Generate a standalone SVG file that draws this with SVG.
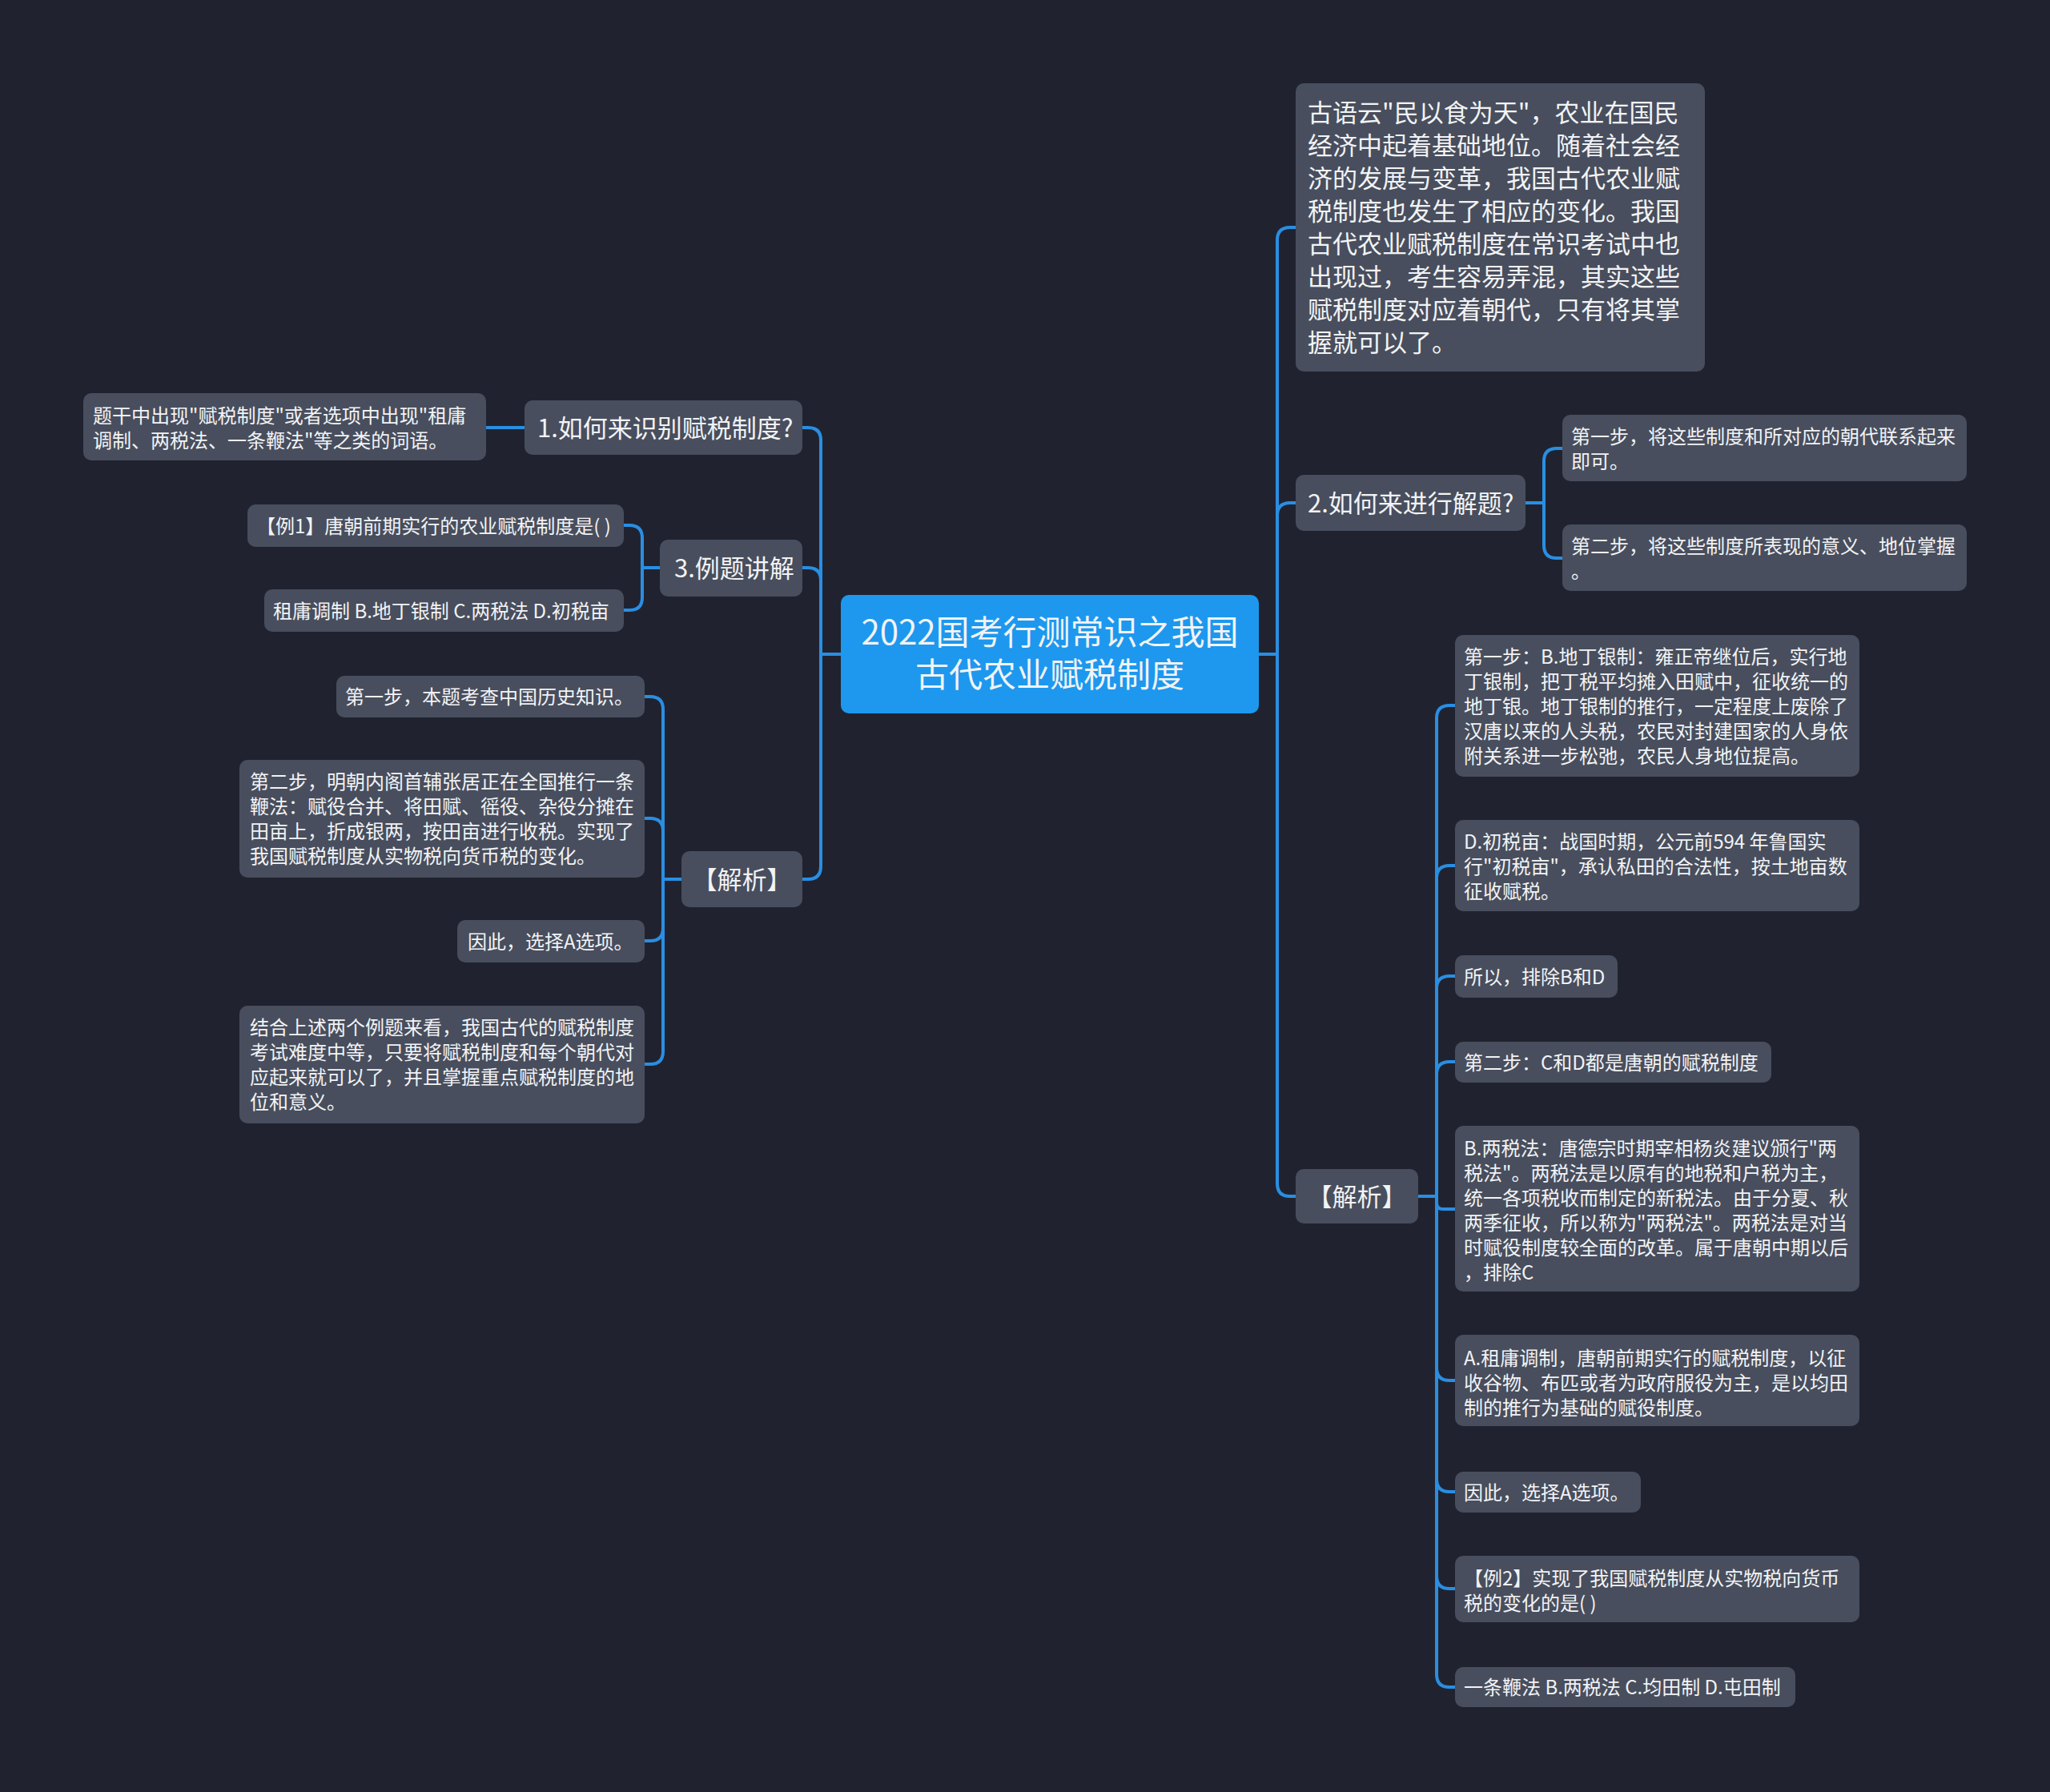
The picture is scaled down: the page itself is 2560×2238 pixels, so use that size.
<svg xmlns="http://www.w3.org/2000/svg" width="2560" height="2238" viewBox="0 0 2560 2238">
<style>
.bg{fill:#20232f}
.n{fill:#484e5d}
.root{fill:#1d98ee}
.t{font-family:"Noto Sans CJK SC","Liberation Sans",sans-serif;fill:#f2f3f5}
.f42{font-size:42px}
.f31{font-size:31px}
.f24{font-size:24px}
.c{fill:none;stroke:#2a8ee2;stroke-width:4;stroke-linecap:round;stroke-linejoin:round}
</style>
<rect class="bg" x="0" y="0" width="2560" height="2238"/>
<g id="connectors">
<path class="c" d="M1572,817 H1595"/>
<path class="c" d="M1595,817 V300 Q1595,284 1611,284 H1618"/>
<path class="c" d="M1595,817 V644 Q1595,628 1611,628 H1618"/>
<path class="c" d="M1595,817 V1478 Q1595,1494 1611,1494 H1618"/>
<path class="c" d="M1905,628 H1928"/>
<path class="c" d="M1928,628 V576 Q1928,560 1944,560 H1951"/>
<path class="c" d="M1928,628 V681 Q1928,697 1944,697 H1951"/>
<path class="c" d="M1771,1494 H1794"/>
<path class="c" d="M1794,1494 V897 Q1794,881 1810,881 H1817"/>
<path class="c" d="M1794,1494 V1097 Q1794,1081 1810,1081 H1817"/>
<path class="c" d="M1794,1494 V1235 Q1794,1219 1810,1219 H1817"/>
<path class="c" d="M1794,1494 V1342 Q1794,1326 1810,1326 H1817"/>
<path class="c" d="M1794,1494 V1502 Q1794,1510 1802,1510 H1817"/>
<path class="c" d="M1794,1494 V1708 Q1794,1724 1810,1724 H1817"/>
<path class="c" d="M1794,1494 V1847 Q1794,1863 1810,1863 H1817"/>
<path class="c" d="M1794,1494 V1968 Q1794,1984 1810,1984 H1817"/>
<path class="c" d="M1794,1494 V2091 Q1794,2107 1810,2107 H1817"/>
<path class="c" d="M1050,817 H1025"/>
<path class="c" d="M1025,817 V550 Q1025,534 1009,534 H1002"/>
<path class="c" d="M1025,817 V725 Q1025,709 1009,709 H1002"/>
<path class="c" d="M1025,817 V1082 Q1025,1098 1009,1098 H1002"/>
<path class="c" d="M655,534 H607"/>
<path class="c" d="M824,709 H802"/>
<path class="c" d="M802,709 V672 Q802,656 786,656 H779"/>
<path class="c" d="M802,709 V746 Q802,762 786,762 H779"/>
<path class="c" d="M851,1098 H828"/>
<path class="c" d="M828,1098 V886 Q828,870 812,870 H805"/>
<path class="c" d="M828,1098 V1038 Q828,1022 812,1022 H805"/>
<path class="c" d="M828,1098 V1159 Q828,1175 812,1175 H805"/>
<path class="c" d="M828,1098 V1313 Q828,1329 812,1329 H805"/>
</g>
<g id="root">
<rect class="root" x="1050" y="743" width="522" height="148" rx="10"/>
<text class="t f42" x="1311" text-anchor="middle"><tspan x="1311" y="805">2022国考行测常识之我国</tspan><tspan x="1311" y="858">古代农业赋税制度</tspan></text>
</g>
<g id="intro">
<rect class="n" x="1618" y="104" width="511" height="360" rx="10"/>
<text class="t f31"><tspan x="1633" y="152">古语云"民以食为天"，农业在国民</tspan><tspan x="1633" y="193">经济中起着基础地位。随着社会经</tspan><tspan x="1633" y="234">济的发展与变革，我国古代农业赋</tspan><tspan x="1633" y="275">税制度也发生了相应的变化。我国</tspan><tspan x="1633" y="316">古代农业赋税制度在常识考试中也</tspan><tspan x="1633" y="357">出现过，考生容易弄混，其实这些</tspan><tspan x="1633" y="398">赋税制度对应着朝代，只有将其掌</tspan><tspan x="1633" y="439">握就可以了。</tspan></text>
</g>
<g id="r2">
<rect class="n" x="1618" y="593" width="287" height="70" rx="10"/>
<text class="t f31" x="1633" y="640">2.如何来进行解题?</text>
</g>
<g id="r2a">
<rect class="n" x="1951" y="518" width="505" height="83" rx="10"/>
<text class="t f24"><tspan x="1962" y="554">第一步，将这些制度和所对应的朝代联系起来</tspan><tspan x="1962" y="585">即可。</tspan></text>
</g>
<g id="r2b">
<rect class="n" x="1951" y="655" width="505" height="83" rx="10"/>
<text class="t f24"><tspan x="1962" y="691">第二步，将这些制度所表现的意义、地位掌握</tspan><tspan x="1962" y="722">。</tspan></text>
</g>
<g id="r3">
<rect class="n" x="1618" y="1460" width="153" height="68" rx="10"/>
<text class="t f31" x="1694.5" y="1506" text-anchor="middle">【解析】</text>
</g>
<g id="r3a">
<rect class="n" x="1817" y="793" width="505" height="177" rx="10"/>
<text class="t f24"><tspan x="1828" y="829">第一步：B.地丁银制：雍正帝继位后，实行地</tspan><tspan x="1828" y="860">丁银制，把丁税平均摊入田赋中，征收统一的</tspan><tspan x="1828" y="891">地丁银。地丁银制的推行，一定程度上废除了</tspan><tspan x="1828" y="922">汉唐以来的人头税，农民对封建国家的人身依</tspan><tspan x="1828" y="953">附关系进一步松弛，农民人身地位提高。</tspan></text>
</g>
<g id="r3b">
<rect class="n" x="1817" y="1024" width="505" height="114" rx="10"/>
<text class="t f24"><tspan x="1828" y="1060">D.初税亩：战国时期，公元前594 年鲁国实</tspan><tspan x="1828" y="1091">行"初税亩"，承认私田的合法性，按土地亩数</tspan><tspan x="1828" y="1122">征收赋税。</tspan></text>
</g>
<g id="r3c">
<rect class="n" x="1817" y="1193" width="203" height="53" rx="10"/>
<text class="t f24" x="1828" y="1229">所以，排除B和D</text>
</g>
<g id="r3d">
<rect class="n" x="1817" y="1301" width="395" height="51" rx="10"/>
<text class="t f24" x="1828" y="1336">第二步：C和D都是唐朝的赋税制度</text>
</g>
<g id="r3e">
<rect class="n" x="1817" y="1406" width="505" height="207" rx="10"/>
<text class="t f24"><tspan x="1828" y="1443">B.两税法：唐德宗时期宰相杨炎建议颁行"两</tspan><tspan x="1828" y="1474">税法"。两税法是以原有的地税和户税为主，</tspan><tspan x="1828" y="1505">统一各项税收而制定的新税法。由于分夏、秋</tspan><tspan x="1828" y="1536">两季征收，所以称为"两税法"。两税法是对当</tspan><tspan x="1828" y="1567">时赋役制度较全面的改革。属于唐朝中期以后</tspan><tspan x="1828" y="1598">，排除C</tspan></text>
</g>
<g id="r3f">
<rect class="n" x="1817" y="1667" width="505" height="114" rx="10"/>
<text class="t f24"><tspan x="1828" y="1705">A.租庸调制，唐朝前期实行的赋税制度，以征</tspan><tspan x="1828" y="1736">收谷物、布匹或者为政府服役为主，是以均田</tspan><tspan x="1828" y="1767">制的推行为基础的赋役制度。</tspan></text>
</g>
<g id="r3g">
<rect class="n" x="1817" y="1838" width="232" height="51" rx="10"/>
<text class="t f24" x="1828" y="1873">因此，选择A选项。</text>
</g>
<g id="r3h">
<rect class="n" x="1817" y="1943" width="505" height="83" rx="10"/>
<text class="t f24"><tspan x="1828" y="1980">【例2】实现了我国赋税制度从实物税向货币</tspan><tspan x="1828" y="2011">税的变化的是( )</tspan></text>
</g>
<g id="r3i">
<rect class="n" x="1817" y="2082" width="425" height="50" rx="10"/>
<text class="t f24" x="1828" y="2116">一条鞭法 B.两税法 C.均田制 D.屯田制</text>
</g>
<g id="l1">
<rect class="n" x="655" y="500" width="347" height="68" rx="10"/>
<text class="t f31" x="671" y="546">1.如何来识别赋税制度?</text>
</g>
<g id="l1a">
<rect class="n" x="104" y="491" width="503" height="84" rx="10"/>
<text class="t f24"><tspan x="116" y="528">题干中出现"赋税制度"或者选项中出现"租庸</tspan><tspan x="116" y="559">调制、两税法、一条鞭法"等之类的词语。</tspan></text>
</g>
<g id="l2">
<rect class="n" x="824" y="674" width="178" height="71" rx="10"/>
<text class="t f31" x="842" y="721">3.例题讲解</text>
</g>
<g id="l2a">
<rect class="n" x="309" y="630" width="470" height="53" rx="10"/>
<text class="t f24" x="320" y="666">【例1】唐朝前期实行的农业赋税制度是( )</text>
</g>
<g id="l2b">
<rect class="n" x="330" y="736" width="449" height="53" rx="10"/>
<text class="t f24" x="341" y="772">租庸调制 B.地丁银制 C.两税法 D.初税亩</text>
</g>
<g id="l3">
<rect class="n" x="851" y="1063" width="151" height="70" rx="10"/>
<text class="t f31" x="926.5" y="1110" text-anchor="middle">【解析】</text>
</g>
<g id="l3a">
<rect class="n" x="420" y="844" width="385" height="52" rx="10"/>
<text class="t f24" x="431" y="879">第一步，本题考查中国历史知识。</text>
</g>
<g id="l3b">
<rect class="n" x="299" y="949" width="506" height="147" rx="10"/>
<text class="t f24"><tspan x="312" y="985">第二步，明朝内阁首辅张居正在全国推行一条</tspan><tspan x="312" y="1016">鞭法：赋役合并、将田赋、徭役、杂役分摊在</tspan><tspan x="312" y="1047">田亩上，折成银两，按田亩进行收税。实现了</tspan><tspan x="312" y="1078">我国赋税制度从实物税向货币税的变化。</tspan></text>
</g>
<g id="l3c">
<rect class="n" x="571" y="1149" width="234" height="53" rx="10"/>
<text class="t f24" x="584" y="1185">因此，选择A选项。</text>
</g>
<g id="l3d">
<rect class="n" x="299" y="1256" width="506" height="147" rx="10"/>
<text class="t f24"><tspan x="312" y="1292">结合上述两个例题来看，我国古代的赋税制度</tspan><tspan x="312" y="1323">考试难度中等，只要将赋税制度和每个朝代对</tspan><tspan x="312" y="1354">应起来就可以了，并且掌握重点赋税制度的地</tspan><tspan x="312" y="1385">位和意义。</tspan></text>
</g>
</svg>
